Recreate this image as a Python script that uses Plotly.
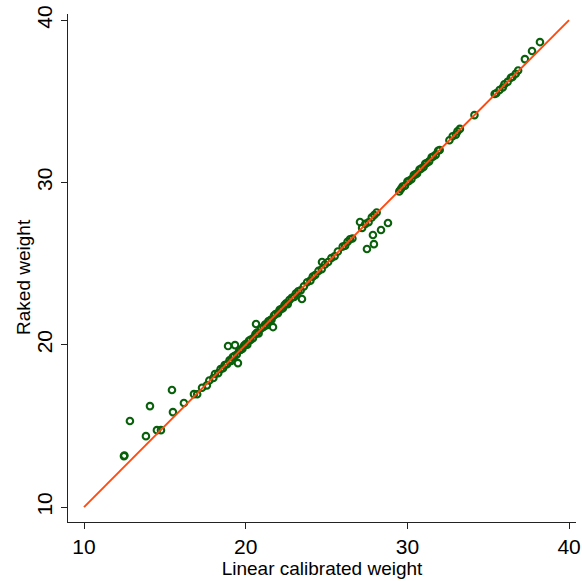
import plotly.graph_objects as go

# Off-diagonal points
x_off = [12.47, 12.50, 12.84, 13.83, 14.08, 14.51, 14.76, 15.44, 15.50, 16.18, 16.80,
         18.91, 19.34, 19.52, 20.64, 21.69, 23.48, 24.72, 27.07, 27.50, 27.93, 27.87,
         28.37, 28.80, 37.27, 37.71, 38.20]
y_off = [13.14, 13.18, 15.30, 14.37, 16.22, 14.74, 14.74, 17.21, 15.85, 16.41, 16.96,
         19.92, 19.98, 18.87, 21.28, 21.09, 22.82, 25.10, 27.56, 25.90, 26.20, 26.76,
         27.07, 27.50, 37.60, 38.10, 38.65]

# Points lying close to the diagonal
x_on = [17.0, 17.3, 17.6, 17.75, 18.0, 18.1, 18.3, 18.45, 18.6, 18.7, 18.85, 19.0, 19.1,
        19.2, 19.3, 19.45, 19.6, 19.7, 19.8, 19.9, 20.0, 20.1, 20.2, 20.3, 20.45, 20.6,
        20.7, 20.8, 20.95, 21.1, 21.2, 21.3, 21.4, 21.5, 21.6, 21.75, 21.85, 22.0, 22.1,
        22.2, 22.3, 22.4, 22.5, 22.6, 22.7, 22.85, 23.0, 23.1, 23.25, 23.4, 23.6, 23.8,
        24.0, 24.15, 24.3, 24.5, 24.7, 24.9, 25.1, 25.3, 25.5, 25.7, 26.0, 26.15, 26.3,
        26.45, 26.6, 27.2, 27.4, 27.6, 27.8, 27.95, 28.1, 29.5, 29.6, 29.7, 29.85, 30.0,
        30.1, 30.25, 30.4, 30.5, 30.6, 30.75, 30.85, 31.0, 31.1, 31.2, 31.35, 31.5, 31.6,
        31.75, 31.9, 32.0, 32.6, 32.8, 33.0, 33.1, 33.25, 34.15, 35.4, 35.5, 35.7, 35.9,
        36.0, 36.2, 36.4, 36.5, 36.7, 36.85]
y_on = [16.95, 17.35, 17.5, 17.8, 17.95, 18.2, 18.25, 18.5, 18.55, 18.75, 18.8, 19.05, 19.0,
        19.25, 19.3, 19.4, 19.65, 19.7, 19.75, 19.95, 20.05, 20.0, 20.25, 20.3, 20.4, 20.65,
        20.75, 20.7, 21.0, 21.1, 21.25, 21.2, 21.45, 21.5, 21.55, 21.8, 21.9, 21.95, 22.15,
        22.2, 22.25, 22.45, 22.55, 22.5, 22.75, 22.9, 22.95, 23.15, 23.3, 23.35, 23.6, 23.85,
        23.95, 24.2, 24.3, 24.55, 24.65, 24.95, 25.1, 25.35, 25.45, 25.75, 26.05, 26.1, 26.35,
        26.5, 26.55, 27.2, 27.45, 27.55, 27.85, 28.0, 28.15, 29.45, 29.6, 29.75, 29.8, 30.05,
        30.1, 30.2, 30.45, 30.5, 30.55, 30.8, 30.85, 30.95, 31.15, 31.2, 31.3, 31.55, 31.6,
        31.7, 31.95, 32.0, 32.6, 32.85, 32.95, 33.15, 33.3, 34.15, 35.45, 35.5, 35.7, 35.85,
        36.05, 36.2, 36.45, 36.5, 36.7, 36.9]

line_x = [10, 40]
line_y = [10, 40]
ticks = [10, 20, 30, 40]

fig = go.Figure()
fig.add_trace(go.Scatter(
    x=x_off + x_on, y=y_off + y_on, mode="markers",
    marker=dict(symbol="circle-open", size=6.5, color="#08600a", line=dict(width=2.1, color="#08600a")),
    showlegend=False, cliponaxis=False))
fig.add_trace(go.Scatter(
    x=line_x, y=line_y, mode="lines",
    line=dict(color="#ff4a10", width=1.9), showlegend=False))

axis_common = dict(
    showline=True, linecolor="#222222", linewidth=1.3,
    ticks="outside", ticklen=6, tickwidth=1.3, tickcolor="#222222",
    showgrid=False, zeroline=False, tickvals=ticks, ticklabeloverflow="allow",
    tickfont=dict(family="Liberation Sans, Arial", size=21, color="black"),
)

fig.update_layout(
    width=582, height=581,
    margin=dict(l=68, r=6, t=14, b=59, autoexpand=False),
    paper_bgcolor="white", plot_bgcolor="white",
    xaxis=dict(range=[9.01, 40.43],
               title=dict(text="Linear calibrated weight", standoff=0,
                          font=dict(family="Liberation Sans, Arial", size=19, color="black")),
               **axis_common),
    yaxis=dict(range=[9.08, 40.38], tickangle=-90, **axis_common),
    annotations=[dict(text="Raked weight", textangle=-90, showarrow=False,
                      xref="paper", yref="paper", x=-0.088, y=0.483,
                      xanchor="center", yanchor="middle",
                      font=dict(family="Liberation Sans, Arial", size=19, color="black"))],
)

fig.write_html("out.html", config={"displayModeBar": False},
               post_script="document.body.style.margin='0';")
